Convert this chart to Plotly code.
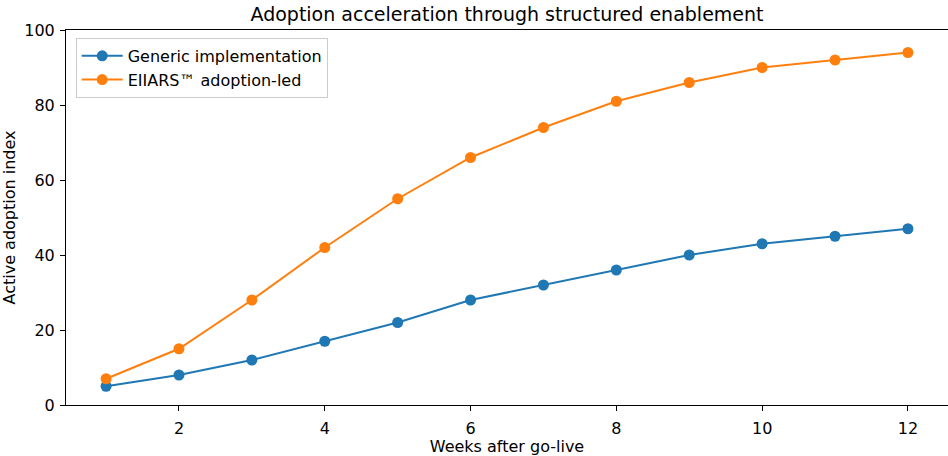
import plotly.graph_objects as go

weeks = [1, 2, 3, 4, 5, 6, 7, 8, 9, 10, 11, 12]
generic = [5, 8, 12, 17, 22, 28, 32, 36, 40, 43, 45, 47]
eiiars = [7, 15, 28, 42, 55, 66, 74, 81, 86, 90, 92, 94]

fig = go.Figure()
fig.add_trace(go.Scatter(x=weeks, y=generic, mode="lines+markers", name="Generic implementation",
                         line=dict(color="#1f77b4", width=2), marker=dict(size=11, color="#1f77b4")))
fig.add_trace(go.Scatter(x=weeks, y=eiiars, mode="lines+markers", name="EIIARS™ adoption-led",
                         line=dict(color="#ff7f0e", width=2), marker=dict(size=11, color="#ff7f0e")))

fig.update_layout(
    width=948, height=456,
    margin=dict(l=66, r=0, t=30, b=51),
    plot_bgcolor="white", paper_bgcolor="white",
    font=dict(family="DejaVu Sans", size=16, color="black"),
    title=dict(text="Adoption acceleration through structured enablement", x=0.5, xref="paper",
               xanchor="center", y=1 - 14 / 456, yref="container", yanchor="middle",
               font=dict(size=19)),
    xaxis=dict(range=[0.45, 12.55], tickvals=[2, 4, 6, 8, 10, 12], showgrid=False, zeroline=False,
               showline=True, linecolor="black", linewidth=1, mirror=True, ticks="outside",
               ticklen=5, tickcolor="black", ticklabelstandoff=4,
               title=dict(text="Weeks after go-live", standoff=2, font=dict(size=16))),
    yaxis=dict(range=[0, 100], tickvals=[0, 20, 40, 60, 80, 100], showgrid=False, zeroline=False,
               showline=True, linecolor="black", linewidth=1, ticks="outside", ticklen=5,
               tickcolor="black", ticklabelstandoff=2,
               title=dict(text="Active adoption index", standoff=8, font=dict(size=16))),
    legend=dict(x=0.011, y=0.979, xanchor="left", yanchor="top", bgcolor="rgba(255,255,255,0.8)",
                bordercolor="#cccccc", borderwidth=1, font=dict(size=16), itemwidth=41),
    showlegend=True,
)
fig.write_html("out.html", config={"displayModeBar": False},
               post_script="document.body.style.margin='0';document.body.style.overflow='hidden';")
